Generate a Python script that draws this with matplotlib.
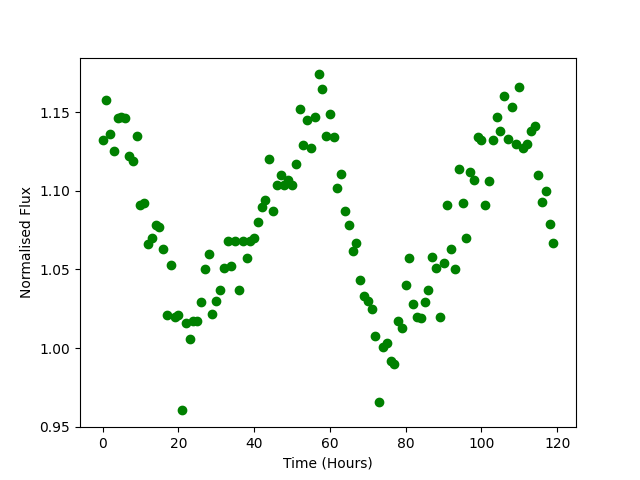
import matplotlib
matplotlib.use("Agg")
import matplotlib.pyplot as plt
import numpy as np

hours = np.arange(120)
flux = [1.132, 1.158, 1.136, 1.125, 1.146, 1.147, 1.146, 1.122, 1.119, 1.135,
        1.091, 1.092, 1.066, 1.070, 1.078, 1.077, 1.063, 1.021, 1.053, 1.020,
        1.021, 0.9604, 1.016, 1.006, 1.017, 1.017, 1.029, 1.050, 1.060, 1.022,
        1.030, 1.037, 1.051, 1.068, 1.052, 1.068, 1.037, 1.068, 1.057, 1.068,
        1.070, 1.080, 1.090, 1.094, 1.120, 1.087, 1.104, 1.110, 1.104, 1.107,
        1.104, 1.117, 1.152, 1.129, 1.145, 1.127, 1.147, 1.174, 1.165, 1.135,
        1.149, 1.134, 1.102, 1.111, 1.087, 1.078, 1.062, 1.067, 1.043, 1.033,
        1.030, 1.025, 1.008, 0.966, 1.001, 1.003, 0.992, 0.990, 1.017, 1.013,
        1.040, 1.057, 1.028, 1.020, 1.019, 1.029, 1.037, 1.058, 1.051, 1.020,
        1.054, 1.091, 1.063, 1.050, 1.114, 1.092, 1.070, 1.112, 1.107, 1.134,
        1.132, 1.091, 1.106, 1.132, 1.147, 1.138, 1.160, 1.133, 1.153, 1.130,
        1.166, 1.127, 1.130, 1.138, 1.141, 1.110, 1.093, 1.100, 1.079, 1.067]

fig, ax = plt.subplots(figsize=(6.4, 4.8), dpi=100)
ax.plot(hours, flux, 'go')
ax.set_xlabel('Time (Hours)')
ax.set_ylabel('Normalised Flux')
fig.savefig('out.png')
